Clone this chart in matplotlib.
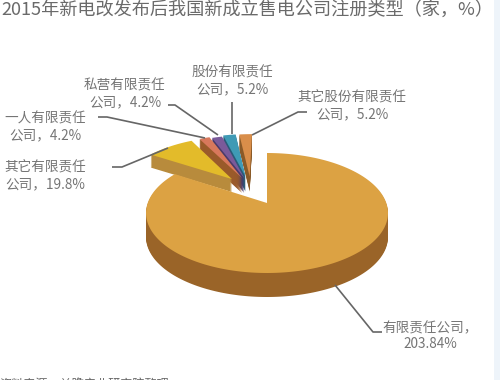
import matplotlib
matplotlib.use("Agg")
import matplotlib.pyplot as plt
import numpy as np
from matplotlib.patches import Polygon, Rectangle

plt.rcParams['font.family'] = ['Noto Sans CJK SC', 'DejaVu Sans']

categories = ['有限责任公司', '其它有限责任公司', '一人有限责任公司', '私营有限责任公司', '股份有限责任公司', '其它股份有限责任公司']
values = [203.84, 19.8, 4.2, 4.2, 5.2, 5.2]
labels = ['有限责任公司，\n203.84%', '其它有限责任\n公司，19.8%', '一人有限责任\n公司，4.2%',
          '私营有限责任\n公司，4.2%', '股份有限责任\n公司，5.2%', '其它股份有限责任\n公司，5.2%']
title = '2015年新电改发布后我国新成立售电公司注册类型（家，%）'
source = '资料来源：前瞻产业研究院整理'

top_colors = ['#dca243', '#e3bb2a', '#d8785c', '#7a5a9a', '#3f9ab5', '#d98e4a']
side_colors = ['#9a6428', '#b88b3c', '#9a5a2a', '#4a3a6a', '#2a5a78', '#8a5a28']
# slice apex and radius on the unit pie disc, before the perspective view
apexes = [(0, 0), (-.315, .44), (-.225, .46), (-.205, .46), (-.195, .49), (-.157, .49)]
radii = [1, .97, 1, .98, .98, .98]
depths = [24, 13, 15, 15, 15, 15]
label_pos = [(430, 336), (45, 176), (45, 127), (125, 94), (232, 81), (352, 106)]
leaders = [[(335, 285), (373, 332), (382, 332)],
           [(112, 167), (122, 167), (168, 148)],
           [(98, 117), (107, 117), (205, 138)],
           [(168, 105), (175, 105), (218, 135)],
           [(232, 102), (232, 134)],
           [(307, 112), (298, 112), (252, 135)]]

# perspective view of the disc
view_x, view_y = 267, 203
view_a, view_b, view_k = 119.3, 58.33, .1667

fig = plt.figure(figsize=(5, 3.8), dpi=100)
ax = fig.add_axes([0, 0, 1, 1])
ax.set_xlim(0, 500)
ax.set_ylim(380, 0)
ax.axis('off')

total = sum(values)
angles = []
a = 90
for v in values:
    b = a - v / total * 360
    angles.append((b, a))
    a = b


def project(u, v):
    w = 1 + view_k * v
    return view_x + view_a * u / w, view_y - view_b * v / w


def draw(i):
    t1, t2 = angles[i]
    t = np.radians(np.linspace(t1, t2, 240))
    u0, v0 = apexes[i]
    u = np.r_[u0, u0 + radii[i] * np.cos(t)]
    v = np.r_[v0, v0 + radii[i] * np.sin(t)]
    x, y = project(u, v)
    for d in range(depths[i], -1, -1):
        c = top_colors[i] if d == 0 else side_colors[i]
        ax.add_patch(Polygon(np.c_[x, y + d], closed=True, facecolor=c, edgecolor='none'))


for i in [5, 4, 3, 2, 1, 0]:
    draw(i)

for pts in leaders:
    xs, ys = zip(*pts)
    ax.plot(xs, ys, color='#666666', lw=1.2, solid_capstyle='butt', zorder=5)

for (x, y), s in zip(label_pos, labels):
    ax.text(x, y, s, ha='center', va='center', fontsize=9.8, color='#757575', linespacing=1.2, zorder=6)

ax.add_patch(Rectangle((494, 0), 6, 380, facecolor='#eef4fa', edgecolor='none', zorder=1))
ax.text(1, 11, title, ha='left', va='center', fontsize=13.1, color='#6a6a6a', zorder=6)
ax.text(-1, 384, source, ha='left', va='center', fontsize=8.7, color='#666666', zorder=6)

fig.savefig('out.png', dpi=100)
